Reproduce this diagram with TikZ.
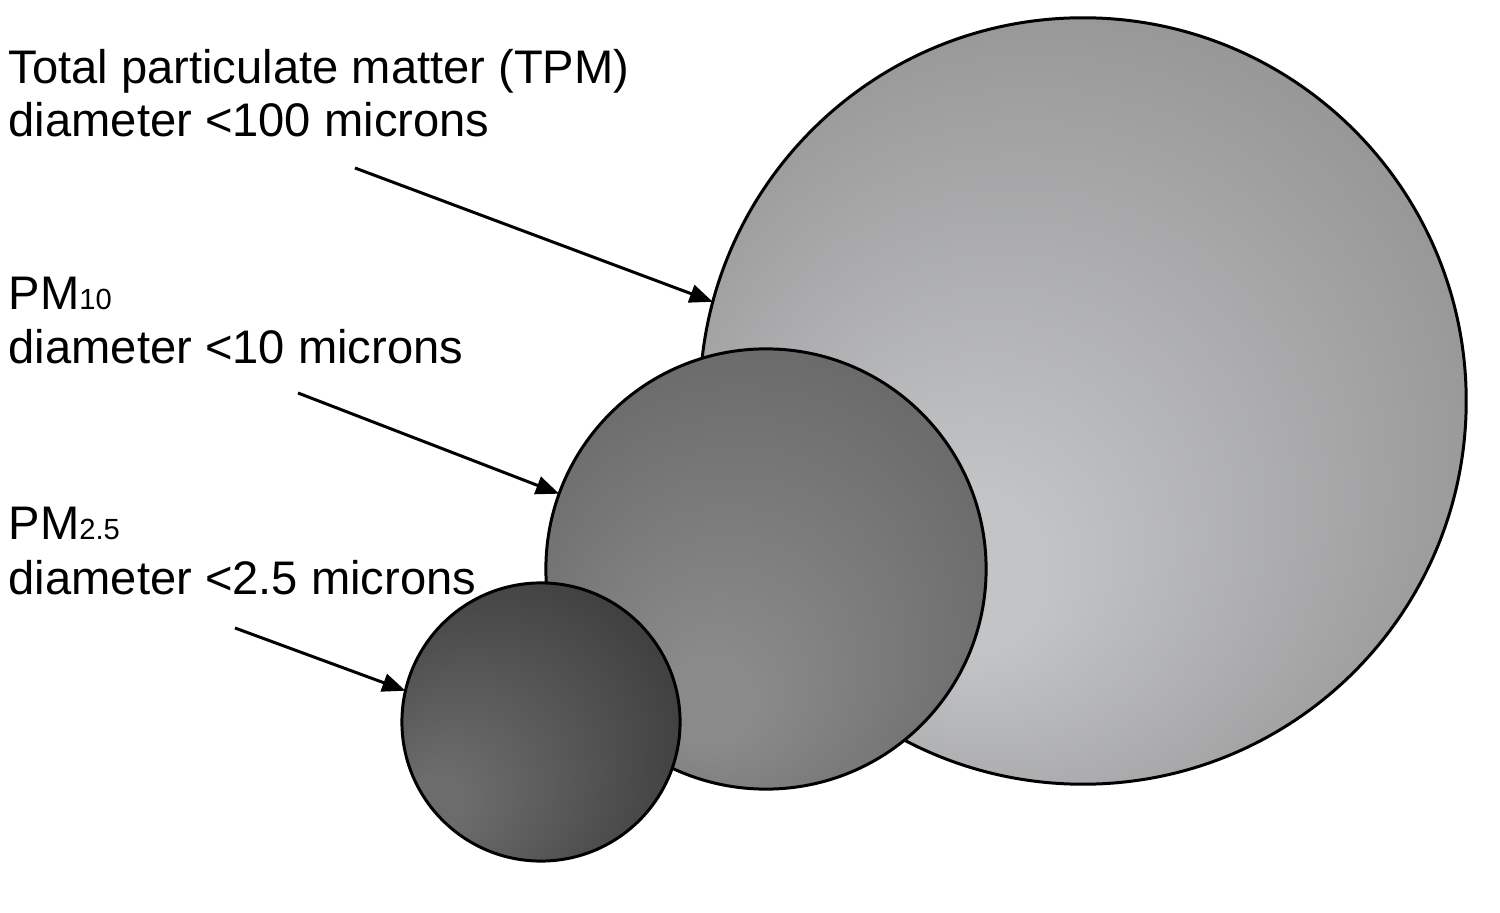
\documentclass[tikz,border=0pt]{standalone}
\usepackage{fontspec}
\setmainfont{Liberation Sans}
\usetikzlibrary{arrows.meta}

\definecolor{tpmlight}{HTML}{C3C4C6}
\definecolor{tpmdark}{HTML}{828282}
\definecolor{tenlight}{HTML}{8A8A8A}
\definecolor{tendark}{HTML}{5A5A5A}
\definecolor{finelight}{HTML}{6C6C6C}
\definecolor{finedark}{HTML}{262626}

\pgfdeclareradialshading{tpmshade}{\pgfpoint{-9bp}{-13bp}}{color(0bp)=(tpmlight); color(5bp)=(tpmlight); color(41bp)=(tpmdark)}
\pgfdeclareradialshading{tenshade}{\pgfpoint{-7bp}{-17bp}}{color(0bp)=(tenlight); color(5bp)=(tenlight); color(44bp)=(tendark)}
\pgfdeclareradialshading{fineshade}{\pgfpoint{-21bp}{-16bp}}{color(0bp)=(finelight); color(5bp)=(finelight); color(51bp)=(finedark)}

\newcommand{\Lbl}{\fontsize{13.4}{15.4}\selectfont}
\newcommand{\Sub}[1]{{\fontsize{8.3}{9}\selectfont #1}}

\tikzset{
  ball/.style={circle, draw=black, line width=0.85pt, inner sep=0pt, outer sep=0pt},
  lbl/.style={anchor=base west, inner sep=0pt, font=\Lbl},
  pointer/.style={line width=0.85pt, -{Triangle[length=6.6pt,width=5.2pt]}}
}

\begin{document}
\begin{tikzpicture}[x=0.01cm, y=-0.01cm]
  \useasboundingbox (0,0) rectangle (1500,913);

  %% circles, biggest first
  \node[ball, shading=tpmshade, minimum size=7.66cm] (tpm) at (1083,401) {};
  \node[ball, shading=tenshade, minimum size=4.40cm] (pmten) at (766,569) {};
  \node[ball, shading=fineshade, minimum size=2.78cm] (pmfine) at (541,722) {};

  %% labels
  \node[lbl] (tpmname) at (8,84) {Total particulate matter (TPM)};
  \node[lbl] (tpmsize) at (8,137) {diameter <100 microns};
  \node[lbl] (pmtenname) at (8,310) {PM\Sub{10}};
  \node[lbl] (pmtensize) at (8,364) {diameter <10 microns};
  \node[lbl] (pmfinename) at (8,540) {PM\Sub{2.5}};
  \node[lbl] (pmfinesize) at (8,595) {diameter <2.5 microns};

  %% arrows
  \coordinate (tpmfoot) at (355,168);
  \coordinate (pmtenfoot) at (298,393);
  \coordinate (pmfinefoot) at (235,628);
  \draw[pointer] (tpmfoot) -- (tpm.165.2); % TPM
  \draw[pointer] (pmtenfoot) -- (pmten.160.1); % PM10
  \draw[pointer] (pmfinefoot) -- (pmfine.167.3); % PM2.5
\end{tikzpicture}
\end{document}
